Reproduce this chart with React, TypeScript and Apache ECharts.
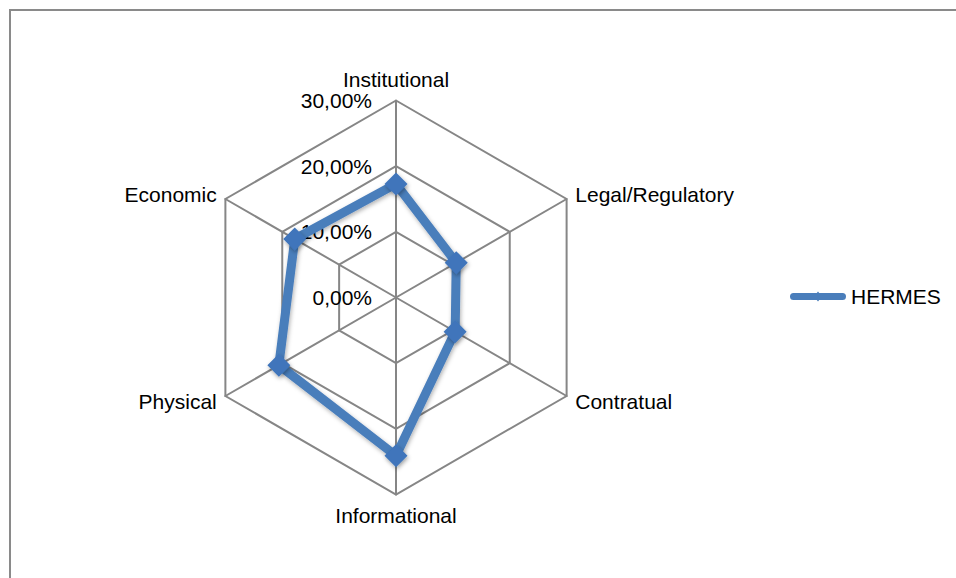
import React, { useEffect, useRef } from "react";
import * as echarts from "echarts";

// Categories in the reference's clockwise order, starting at the top
const categories = ["Institutional", "Legal/Regulatory", "Contratual", "Informational", "Physical", "Economic"];
// HERMES values (%)
const hermesValues = [17.3, 10.6, 10.4, 24.1, 20.6, 17.8];
const seriesName = "HERMES";
const axisMax = 30;
const axisSplits = 3;

const FONT = "'Liberation Sans', Arial, sans-serif";

export default function App() {
  const ref = useRef<HTMLDivElement>(null);
  useEffect(() => {
    if (!ref.current) return;
    const chart = echarts.init(ref.current, null, { renderer: "svg" });
    // ECharts radar runs counter-clockwise; reorder so the picture reads clockwise
    const order = [0, ...categories.slice(1).map((_, i) => categories.length - 1 - i)];
    const indicator = order.map((i) => ({
      name: categories[i],
      max: axisMax,
      min: 0,
      axisLabel: i === 0 ? { show: true } : { show: false },
    }));
    const values = order.map((i) => hermesValues[i]);
    chart.setOption({
      animation: false,
      backgroundColor: "#ffffff",
      graphic: [
        {
          type: "rect",
          shape: { x: 10, y: 10, width: 1000, height: 1000 },
          style: { fill: "none", stroke: "#8a8a8a", lineWidth: 2 },
          silent: true,
        },
      ],
      legend: {
        data: [
          {
            name: seriesName,
            icon: "path://M3.5,1.5 L52.5,1.5 A3.5,3.5 0 0 1 52.5,8.5 L3.5,8.5 A3.5,3.5 0 0 1 3.5,1.5 Z M28,0 L32,5 L28,10 L24,5 Z",
          },
        ],
        left: 790,
        top: 286,
        padding: 0,
        itemWidth: 56,
        itemHeight: 10,
        itemStyle: { borderWidth: 0, color: "#4a7ebb" },
        textStyle: { fontFamily: FONT, fontSize: 21, color: "#000" },
        selectedMode: false,
      },
      radar: {
        center: [396, 297.5],
        radius: 197,
        startAngle: 90,
        shape: "polygon",
        splitNumber: axisSplits,
        indicator,
        nameGap: 10,
        axisName: { color: "#000", fontFamily: FONT, fontSize: 21 },
        axisLine: { show: true, lineStyle: { color: "#868686", width: 2 } },
        splitLine: { show: true, lineStyle: { color: "#868686", width: 2 } },
        splitArea: { show: false },
        axisTick: { show: false },
        axisLabel: {
          show: false,
          margin: 24,
          color: "#000",
          fontFamily: FONT,
          fontSize: 21,
          formatter: (v: number) => v.toFixed(2).replace(".", ",") + "%",
        },
      },
      series: [
        {
          type: "radar",
          name: seriesName,
          silent: true,
          symbol: "diamond",
          symbolSize: 23,
          lineStyle: {
            color: "#4a7ebb",
            width: 9,
            shadowBlur: 4,
            shadowColor: "rgba(0,0,0,0.3)",
            shadowOffsetX: 1,
            shadowOffsetY: 2,
          },
          itemStyle: {
            color: "#3f75bb",
            borderWidth: 0,
            shadowBlur: 4,
            shadowColor: "rgba(0,0,0,0.35)",
            shadowOffsetX: 1,
            shadowOffsetY: 2,
          },
          emphasis: { disabled: true },
          data: [{ name: seriesName, value: values }],
        },
      ],
    });
    return () => chart.dispose();
  }, []);
  return (
    <div
      ref={ref}
      style={{ position: "absolute", left: 0, top: 0, width: 956, height: 578 }}
    />
  );
}
